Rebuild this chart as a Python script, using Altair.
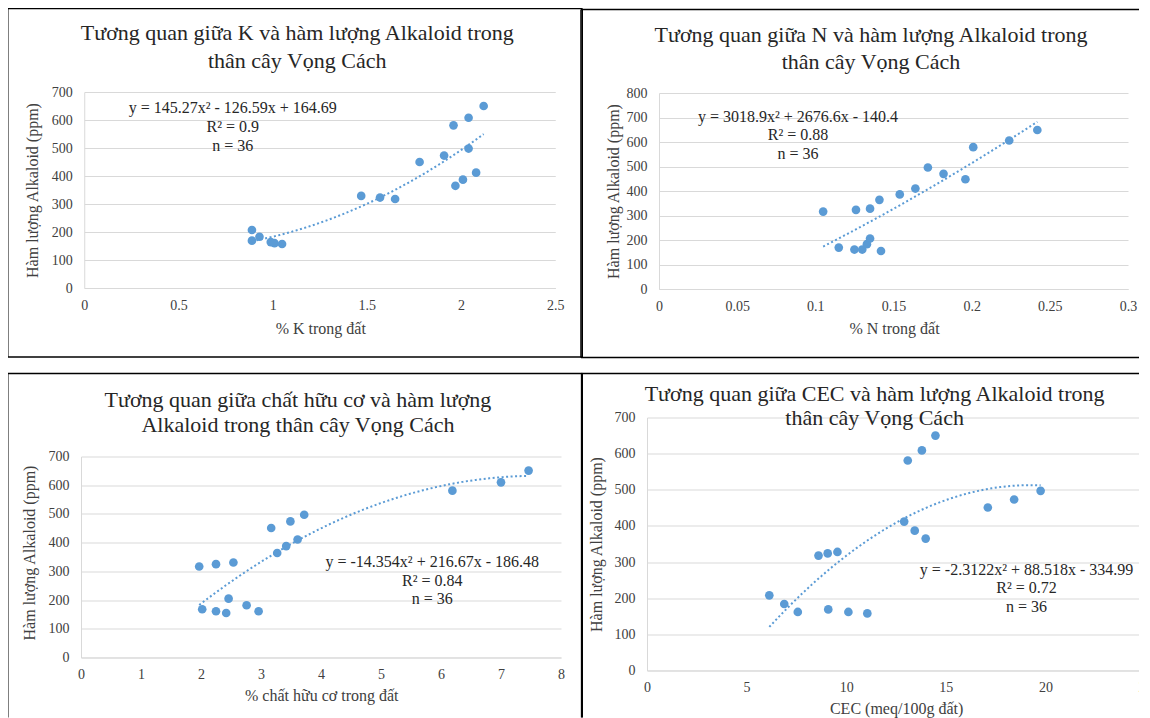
import altair as alt
import pandas as pd

# ---------------- data ----------------
k_pct = [0.89, 0.89, 0.93, 0.99, 1.01, 1.05, 1.47, 1.57, 1.65, 1.78, 1.91, 1.96, 1.97, 2.01, 2.04, 2.04, 2.08, 2.12]
k_alk = [207, 169, 183, 164, 160, 157, 329, 323, 318, 450, 473, 581, 365, 387, 608, 498, 412, 650]

n_pct = [0.105, 0.115, 0.125, 0.126, 0.130, 0.133, 0.135, 0.135, 0.141, 0.142, 0.154, 0.164, 0.172, 0.182, 0.196, 0.201, 0.224, 0.242]
n_alk = [316, 169, 161, 323, 161, 183, 206, 328, 364, 155, 386, 410, 496, 470, 448, 579, 606, 649]

om_pct = [1.97, 2.02, 2.25, 2.25, 2.42, 2.46, 2.54, 2.76, 2.96, 3.17, 3.27, 3.42, 3.49, 3.61, 3.72, 6.19, 7.00, 7.46]
om_alk = [317, 168, 325, 161, 155, 205, 331, 182, 161, 451, 364, 388, 474, 411, 497, 581, 610, 651]

cec = [6.14, 6.89, 7.57, 8.61, 9.07, 9.10, 9.56, 10.11, 11.06, 12.91, 13.09, 13.44, 13.80, 13.99, 14.48, 17.11, 18.43, 19.76]
cec_alk = [208, 184, 162, 318, 324, 169, 328, 162, 158, 412, 581, 387, 609, 365, 650, 451, 473, 497]

titles = [
    ["Tương quan giữa K và hàm lượng Alkaloid trong", "thân cây Vọng Cách"],
    ["Tương quan giữa N và hàm lượng Alkaloid trong", "thân cây Vọng Cách"],
    ["Tương quan giữa chất hữu cơ và hàm lượng", "Alkaloid trong thân cây Vọng Cách"],
    ["Tương quan giữa CEC và hàm lượng Alkaloid trong", "thân cây Vọng Cách"],
]
equations = [
    ["y = 145.27x² - 126.59x + 164.69", "R² = 0.9", "n = 36"],
    ["y = 3018.9x² + 2676.6x - 140.4", "R² = 0.88", "n = 36"],
    ["y = -14.354x² + 216.67x - 186.48", "R² = 0.84", "n = 36"],
    ["y = -2.3122x² + 88.518x - 334.99", "R² = 0.72", "n = 36"],
]
x_titles = ["% K trong đất", "% N trong đất", "% chất hữu cơ trong đất", "CEC (meq/100g đất)"]
y_title = "Hàm lượng Alkaloid (ppm)"
x_ticks = [[0, 0.5, 1, 1.5, 2, 2.5], [0, 0.05, 0.1, 0.15, 0.2, 0.25, 0.3],
           [0, 1, 2, 3, 4, 5, 6, 7, 8], [0, 5, 10, 15, 20, 25]]
y_ticks = [[0, 100, 200, 300, 400, 500, 600, 700], [0, 100, 200, 300, 400, 500, 600, 700, 800],
           [0, 100, 200, 300, 400, 500, 600, 700], [0, 100, 200, 300, 400, 500, 600, 700]]

# ---------------- styling ----------------
FONT = "Liberation Serif"
BLUE = "#5B9BD5"
GRID = "#D9D9D9"
TXT = "#262626"
LAB = "#404040"


def text_layer(txt, x, y, size):
    return alt.Chart(alt.Data(values=[{"t": txt}])).mark_text(
        font=FONT, fontSize=size, color=TXT, align="center", baseline="middle"
    ).encode(text="t:N", x=alt.value(x), y=alt.value(y))


def hrule(x1, x2, y):
    return alt.Chart(alt.Data(values=[{"a": 1}])).mark_rule(color="black", strokeWidth=1.5).encode(
        x=alt.value(x1), x2=alt.value(x2), y=alt.value(y))


def vrule(x, y1, y2):
    return alt.Chart(alt.Data(values=[{"a": 1}])).mark_rule(color="black", strokeWidth=1.5).encode(
        x=alt.value(x), y=alt.value(y1), y2=alt.value(y2))


def panel(i, xs, ys, W, H, xrange, top_gap, yoff, title_pos, eq_pos, ytitle, xtitle_pos, borders):
    df = pd.DataFrame({"x": xs, "y": ys})
    xt = x_ticks[i]
    yt = y_ticks[i]
    xscale = alt.Scale(domain=[xt[0], xt[-1]], nice=False, zero=False, range=xrange)
    yscale = alt.Scale(domain=[yt[0], yt[-1]], nice=False, range=[H, top_gap])
    common = dict(ticks=False, tickSize=0, domainColor=GRID, domainWidth=1,
                  labelFont=FONT, labelFontSize=14, labelColor=LAB, labelFlush=False, labelOverlap=False,
                  titleFont=FONT, titleFontSize=16, titleFontWeight="normal", titleColor=LAB,
                  titleBaseline="middle", titleAlign="center")
    xaxis = alt.Axis(values=xt, format="~g", grid=False, title=x_titles[i], labelPadding=10,
                     titleX=xtitle_pos[0], titleY=xtitle_pos[1], **common)
    ykw = dict(values=yt, grid=True, gridColor=GRID, gridWidth=1, title=y_title, labelPadding=12,
               titleX=ytitle[0], titleY=ytitle[1], titleAngle=270, **common)
    if yoff:
        ykw["offset"] = yoff
    yaxis = alt.Axis(**ykw)
    X = alt.X("x:Q", scale=xscale, axis=xaxis)
    Y = alt.Y("y:Q", scale=yscale, axis=yaxis)
    base = alt.Chart(df)
    pts = base.mark_point(filled=True, size=75, color=BLUE, opacity=1).encode(x=X, y=Y)
    trend = base.transform_regression("x", "y", method="poly", order=2).mark_line(
        color=BLUE, strokeWidth=2, strokeDash=[2, 2.5]
    ).encode(x=X, y=Y)
    layers = [pts, trend]
    (tx, ty1, ty2) = title_pos
    layers.append(text_layer(titles[i][0], tx, ty1, 22))
    layers.append(text_layer(titles[i][1], tx, ty2, 22))
    (ex, ey) = eq_pos
    for j, line in enumerate(equations[i]):
        layers.append(text_layer(line, ex, ey[j], 16))
    layers.extend(borders)
    return alt.layer(*layers).properties(width=W, height=H)


# panel 1 : origin abs (81.75, 92); plot x 85-556, y 92-288
p1 = panel(0, k_pct, k_alk, 475, 196, [3.25, 474.25], 0, -3.25,
           (216.25, -59, -31), (151.75, [16, 35, 54]), (-51.75, 98), (239.25, 40),
           [hrule(-73.25, 501.25, -83.5), hrule(-73.25, 501.25, 265),
            vrule(-73.25, -83.5, 265), vrule(501.25, -83.5, 265)])
# panel 2 : origin abs (661, 92); plot x 661-1130, y 93-289
p2 = panel(1, n_pct, n_alk, 469, 197, [0, 469], 1, 0,
           (212, -57, -30), (139, [25, 43, 62]), (-46, 99), (235, 39),
           [vrule(-78, -82.5, 265.5), hrule(-78, 495, -82.5), hrule(-78, 495, 265.5)])
# panel 3 : origin abs (81.75, 418); plot x 82-562, y 457-658
p3 = panel(2, om_pct, om_alk, 480, 240, [0, 480], 39, 0,
           (216.95, -17.3, 7.7), (351.25, [144.7, 163, 181]), (-51.75, 135), (240.25, 38),
           [hrule(-73.25, 501.25, -44), vrule(-73.25, -44, 300), vrule(501.25, -44, 300)])
# panel 4 : origin abs (648.4, 418); plot x 648-1146, y 418-671
p4 = panel(3, cec, cec_alk, 498, 253, [0, 498], 0, 0,
           (227.6, -24, 0.7), (379.6, [152, 170, 189]), (-50.4, 126.5), (249.1, 38.3),
           [vrule(-65.4, -44, 300), hrule(-65.4, 510, -44)])

chart = alt.vconcat(
    alt.hconcat(p1, p2, spacing=-3),
    alt.hconcat(p3, p4, spacing=-3),
    spacing=13.5,
).properties(padding={"left": -1, "top": -1, "right": -19, "bottom": 0},
             background="white").configure_view(stroke=None)

chart.save("out.html", embed_options={"renderer": "svg", "actions": False})
